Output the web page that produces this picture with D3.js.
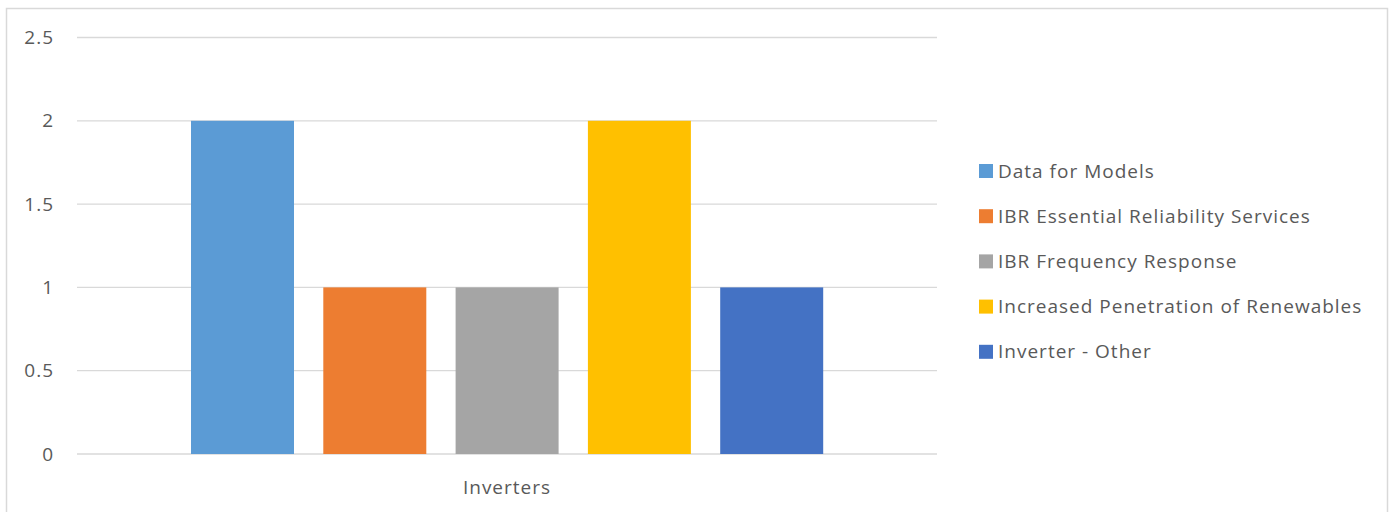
<!DOCTYPE html>
<html><head><meta charset="utf-8">
<script src="https://cdn.jsdelivr.net/npm/d3@7"></script>
<style>body{margin:0;background:#fff}svg{display:block}</style>
</head><body>
<svg id="c" width="1392" height="512"></svg>
<script>
const categories = ["Inverters"];
const seriesNames = ["Data for Models","IBR Essential Reliability Services","IBR Frequency Response","Increased Penetration of Renewables","Inverter - Other"];
const seriesValues = [2, 1, 1, 2, 1];
const seriesColors = ["#5B9BD5","#ED7D31","#A5A5A5","#FFC000","#4472C4"];
const yTicks = [0, 0.5, 1, 1.5, 2, 2.5];

const svg = d3.select("#c");
const font = "'Open Sans', sans-serif";
const txt = "#595959";

svg.append("rect").attr("x",6.5).attr("y",8.5).attr("width",1381).attr("height",520)
  .attr("fill","#fff").attr("stroke","#d9d9d9").attr("stroke-width",1.5);

const x0 = 77, x1 = 937, yTop = 37.5, yBot = 454;
const y = d3.scaleLinear().domain([0,2.5]).range([yBot,yTop]);

// gridlines
svg.append("g").selectAll("line").data(yTicks).join("line")
  .attr("x1",x0).attr("x2",x1).attr("y1",d=>y(d)).attr("y2",d=>y(d))
  .attr("stroke","#d9d9d9").attr("stroke-width",1.3);

// y labels
svg.append("g").selectAll("text").data(yTicks).join("text")
  .attr("x",54).attr("y",d=>y(d)).attr("dy","0.35em").attr("text-anchor","end")
  .attr("font-family",font).attr("font-size",19).attr("letter-spacing",1).attr("fill",txt)
  .text(d=>d3.format("")(d));

// bars
const xb = d3.scaleBand().domain(seriesNames).range([191, 823.2]).paddingInner(0.2215).paddingOuter(0);
svg.append("g").selectAll("rect").data(seriesNames).join("rect")
  .attr("x",d=>xb(d)).attr("width",xb.bandwidth())
  .attr("y",(d,i)=>y(seriesValues[i])).attr("height",(d,i)=>yBot - y(seriesValues[i]))
  .attr("fill",(d,i)=>seriesColors[i]);

// x category label
svg.append("text").attr("x",507).attr("y",494).attr("text-anchor","middle")
  .attr("font-family",font).attr("font-size",19).attr("letter-spacing",1).attr("fill",txt).text(categories[0]);

// legend
const lg = svg.append("g").selectAll("g").data(seriesNames).join("g")
  .attr("transform",(d,i)=>`translate(979,${171 + i*45.2})`);
lg.append("rect").attr("x",0).attr("y",-7).attr("width",14).attr("height",14).attr("fill",(d,i)=>seriesColors[i]);
lg.append("text").attr("x",19).attr("y",0).attr("dy","0.35em")
  .attr("font-family",font).attr("font-size",19).attr("letter-spacing",1).attr("fill",txt).text(d=>d);
</script>
</body></html>
